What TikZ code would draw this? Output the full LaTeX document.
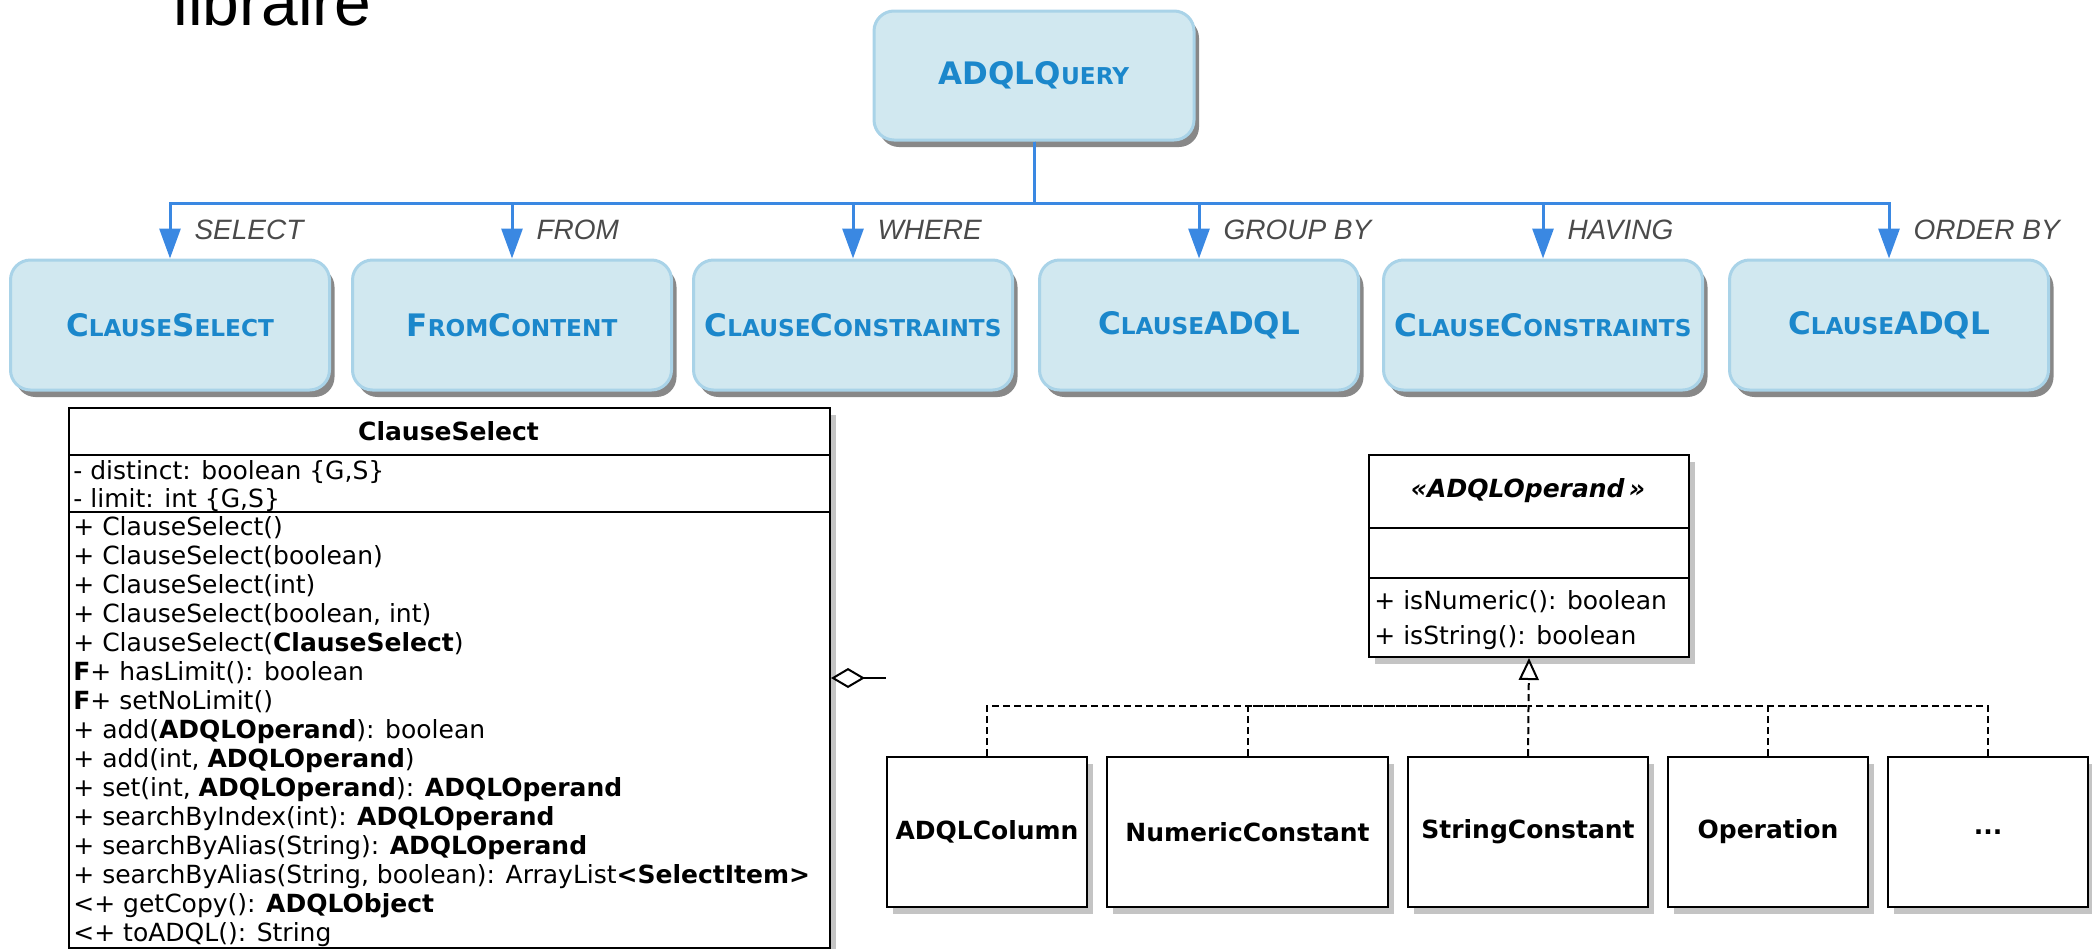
\documentclass[tikz,border=0pt]{standalone}
\usepackage{fontspec}
\setmainfont{DejaVu Sans}
\newfontfamily\lblfont{Liberation Sans}
\usetikzlibrary{arrows.meta,shadows,positioning}

\definecolor{qfill}{HTML}{D1E8F0}
\definecolor{qborder}{HTML}{A9D3E8}
\definecolor{qtext}{HTML}{1B87CB}
\definecolor{qedge}{HTML}{3A88E2}
\definecolor{qshadow}{HTML}{888888}
\definecolor{lblgray}{HTML}{4A4A4A}
\definecolor{umlshadow}{HTML}{C4C4C4}

%капители для заголовков
\newcommand{\qsc}[2]{{\fontsize{15.5pt}{18pt}\selectfont #1}{\fontsize{11.6pt}{14pt}\selectfont #2}}

\begin{document}
\begin{tikzpicture}[x=0.5pt,y=-0.5pt,
  qbox/.style={draw=qborder,line width=1.5pt,fill=qfill,rounded corners=10pt,
    minimum width=159.5pt,minimum height=65pt,text=qtext,font=\bfseries,
    drop shadow={shadow xshift=2.5pt,shadow yshift=-3.5pt,fill=qshadow,opacity=1}},
  qedge/.style={draw=qedge,line width=1.5pt,-{Triangle[length=15pt,width=10.5pt]}},
  lbl/.style={pos=0.74,anchor=west,xshift=11.5pt,inner sep=0pt,text=lblgray,
    font=\lblfont\itshape\fontsize{14pt}{16pt}\selectfont},
  umlbox/.style={draw,line width=1pt,fill=white,inner sep=0pt,
    drop shadow={shadow xshift=3pt,shadow yshift=-3.5pt,fill=umlshadow,opacity=1}},
  umltxt/.style={inner sep=0pt,align=left,font=\fontsize{12.5pt}{14.5pt}\selectfont},
  sub/.style={umlbox,minimum width=100pt,minimum height=75pt,
    font=\bfseries\fontsize{12.5pt}{15pt}\selectfont}]
\useasboundingbox (0,0) rectangle (2092,948);
%заголовок
\node[anchor=base west,inner sep=0pt,font=\lblfont\fontsize{33pt}{36pt}\selectfont]
  (title) at (173,25) {libraire};
%дерево запроса
\node[qbox,minimum width=160pt,minimum height=64.5pt] (q) at (1034,75.5) {\qsc{ADQLQ}{UERY}};
\node[qbox] (b1) at (170,325) {\qsc{C}{LAUSE}\qsc{S}{ELECT}};
\node[qbox] (b2) at (512,325) {\qsc{F}{ROM}\qsc{C}{ONTENT}};
\node[qbox] (b3) at (853,325) {\qsc{C}{LAUSE}\qsc{C}{ONSTRAINTS}};
\node[qbox] (b4) at (1199,325) {\qsc{C}{LAUSE}\qsc{ADQL}{}};
\node[qbox] (b5) at (1543,325) {\qsc{C}{LAUSE}\qsc{C}{ONSTRAINTS}};
\node[qbox] (b6) at (1889,325) {\qsc{C}{LAUSE}\qsc{ADQL}{}};
\coordinate (bus) at (1034,203);
\draw[qedge] (q.south) -- (bus) -| (b1.north) node[lbl] {SELECT};
\draw[qedge] (q.south) -- (bus) -| (b2.north) node[lbl] {FROM};
\draw[qedge] (q.south) -- (bus) -| (b3.north) node[lbl] {WHERE};
\draw[qedge] (q.south) -- (bus) -| (b4.north) node[lbl] {GROUP BY};
\draw[qedge] (q.south) -- (bus) -| (b5.north) node[lbl] {HAVING};
\draw[qedge] (q.south) -- (bus) -| (b6.north) node[lbl] {ORDER BY};
%класс ClauseSelect
\node[umlbox,anchor=north west,minimum width=380.5pt,minimum height=270pt] (cs) at (68,407) {};
\draw[line width=1pt] (68,455) -- (829,455);
\draw[line width=1pt] (68,512) -- (829,512);
\node[font=\bfseries\fontsize{12.5pt}{15pt}\selectfont] (cstitle) at (448.5,431) {ClauseSelect};
\node[umltxt,anchor=base west,font=\fontsize{12.5pt}{14pt}\selectfont] (csattr) at (73,507)
  {- distinct: boolean \{G,S\}\\- limit: int \{G,S\}};
\node[umltxt,anchor=base west] (csmeth) at (73,941)
  {+ ClauseSelect()\\
   + ClauseSelect(boolean)\\
   + ClauseSelect(int)\\
   + ClauseSelect(boolean, int)\\
   + ClauseSelect(\textbf{ClauseSelect})\\
   \textbf{F}+ hasLimit(): boolean\\
   \textbf{F}+ setNoLimit()\\
   + add(\textbf{ADQLOperand}): boolean\\
   + add(int, \textbf{ADQLOperand})\\
   + set(int, \textbf{ADQLOperand}): \textbf{ADQLOperand}\\
   + searchByIndex(int): \textbf{ADQLOperand}\\
   + searchByAlias(String): \textbf{ADQLOperand}\\
   + searchByAlias(String, boolean): ArrayList\textbf{<SelectItem>}\\
   <+ getCopy(): \textbf{ADQLObject}\\
   <+ toADQL(): String};
%агрегация
\coordinate (aggend) at (886,678);
\draw[line width=1pt,{Diamond[open,length=17pt,width=10pt]}-] (cs.east) -- (aggend);
%интерфейс ADQLOperand
\node[umlbox,anchor=north west,minimum width=160pt,minimum height=101pt] (iface) at (1368,454) {};
\draw[line width=1pt] (1368,528) -- (1688,528);
\draw[line width=1pt] (1368,578) -- (1688,578);
\node[font=\bfseries\itshape\fontsize{12.5pt}{15pt}\selectfont] (ititle) at (1528,491) {«ADQLOperand\,»};
\node[umltxt,anchor=base west,font=\fontsize{12.5pt}{17.5pt}\selectfont] (imeth) at (1374,644)
  {+ isNumeric(): boolean\\+ isString(): boolean};
%реализации
\node[sub] (s1) at (987,832) {ADQLColumn};
\node[sub,minimum width=140.5pt] (s2) at (1247.5,832) {NumericConstant};
\node[sub,minimum width=120pt] (s3) at (1528,832) {StringConstant};
\node[sub] (s4) at (1768,832) {Operation};
\node[sub] (s5) at (1988,832) {...};
\coordinate (gbus) at (1528,706);
\draw[line width=1pt,dash pattern=on 3.5pt off 2pt] (s1.north) |- (gbus);
\draw[line width=1pt,dash pattern=on 3.5pt off 2pt] (s2.north) |- (gbus);
\draw[line width=1pt,dash pattern=on 3.5pt off 2pt] (s4.north) |- (gbus);
\draw[line width=1pt,dash pattern=on 3.5pt off 2pt] (s5.north) |- (gbus);
\draw[line width=1pt,dash pattern=on 3.5pt off 2pt,-{Triangle[open,length=11pt,width=10pt]}]
  (s3.north) -- (iface.south);
\end{tikzpicture}
\end{document}
